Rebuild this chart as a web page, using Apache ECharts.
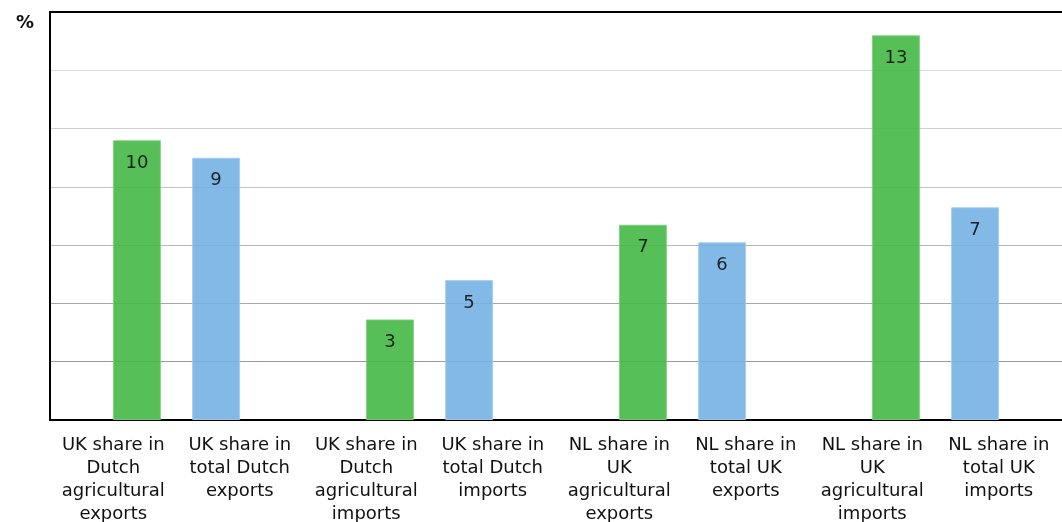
<!DOCTYPE html>
<html>
<head>
<meta charset="utf-8">
<script src="https://cdn.jsdelivr.net/npm/echarts@6/dist/echarts.min.js"></script>
<style>
html,body{margin:0;padding:0;background:#fff;}
#chart{width:1062px;height:522px;}
</style>
</head>
<body>
<div id="chart"></div>
<script>
// Bar groups (4 pairs) and the 8 individual labels shown under the axis
const groups = ['G1', 'G2', 'G3', 'G4'];
const labels = [
  'UK share in\nDutch\nagricultural\nexports',
  'UK share in\ntotal Dutch\nexports',
  'UK share in\nDutch\nagricultural\nimports',
  'UK share in\ntotal Dutch\nimports',
  'NL share in\nUK\nagricultural\nexports',
  'NL share in\ntotal UK\nexports',
  'NL share in\nUK\nagricultural\nimports',
  'NL share in\ntotal UK\nimports'
];
const agricultural = [9.6, 3.45, 6.7, 13.2];
const total = [9.0, 4.8, 6.1, 7.3];

const font = 'DejaVu Sans, Verdana, sans-serif';
const chart = echarts.init(document.getElementById('chart'), null, {renderer: 'canvas'});

const labelStyle = {
  show: true,
  position: 'insideTop',
  distance: 14,
  fontFamily: font,
  fontSize: 18,
  color: '#111',
  formatter: p => Math.round(p.value)
};

chart.setOption({
  animation: false,
  backgroundColor: '#fff',
  title: {
    text: '%', left: 11, top: 9,
    textStyle: {fontFamily: font, fontSize: 18, fontWeight: 'bold', color: '#111'}
  },
  grid: {left: 50, right: 0, top: 12, bottom: 102, containLabel: false, outerBoundsMode: 'none'},
  xAxis: [
    {
      type: 'category', data: groups, position: 'bottom',
      axisLine: {show: true, lineStyle: {color: '#000', width: 2}},
      axisTick: {show: false}, axisLabel: {show: false}, splitLine: {show: false}
    },
    {
      type: 'category', data: labels, position: 'bottom',
      axisLine: {show: false}, axisTick: {show: false},
      axisLabel: {
        show: true, interval: 0, margin: 14,
        fontFamily: font, fontSize: 18, lineHeight: 23, color: '#111', align: 'center'
      },
      splitLine: {show: false}
    },
    {
      type: 'category', data: groups, position: 'top',
      axisLine: {show: true, lineStyle: {color: '#000', width: 2}},
      axisTick: {show: false}, axisLabel: {show: false}, splitLine: {show: false}
    }
  ],
  yAxis: {
    type: 'value', min: 0, max: 14, interval: 2,
    axisLine: {show: true, lineStyle: {color: '#000', width: 2}},
    axisTick: {show: false}, axisLabel: {show: false},
    splitLine: {show: true, lineStyle: {width: 1,
      color: ['#000', '#9a9a9a', '#a8a8a8', '#b6b6b6', '#c4c4c4', '#d0d0d0', '#dcdcdc', '#000']}}
  },
  series: [
    {
      name: 'agricultural', type: 'bar', xAxisIndex: 0, data: agricultural,
      barWidth: 48, barGap: '65%',
      itemStyle: {color: '#45b845', borderColor: '#80d080', borderWidth: 1, opacity: 0.9},
      label: labelStyle
    },
    {
      name: 'total', type: 'bar', xAxisIndex: 0, data: total,
      barWidth: 48, barGap: '65%',
      itemStyle: {color: '#76b1e4', borderColor: '#a8cdee', borderWidth: 1, opacity: 0.9},
      label: labelStyle
    }
  ]
});
</script>
</body>
</html>
